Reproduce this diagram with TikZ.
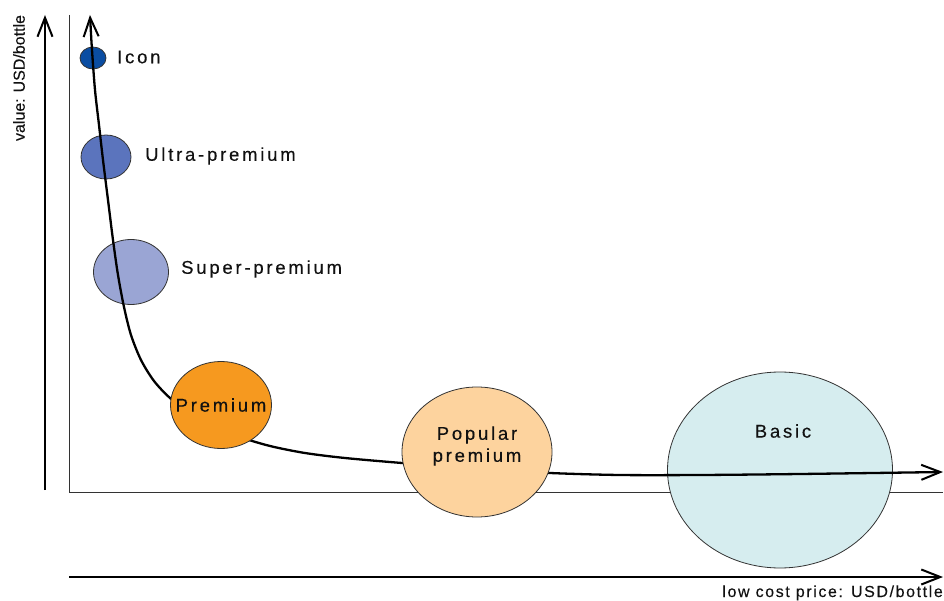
\documentclass[tikz,border=0pt]{standalone}
\usepackage{fontspec}
\setmainfont{Liberation Sans}
\newfontfamily\lblfont[LetterSpace=15,FakeBold=0.3]{Liberation Sans}
\newfontfamily\axfont[LetterSpace=10,FakeBold=0.2]{Liberation Sans}
\newfontfamily\yfont[FakeBold=0.1]{Liberation Sans}
\usetikzlibrary{shapes.geometric,arrows.meta}
\definecolor{iconc}{HTML}{0A4DA2}
\definecolor{ultrac}{HTML}{5B74BD}
\definecolor{superc}{HTML}{9AA5D4}
\definecolor{premc}{HTML}{F6991F}
\definecolor{popc}{HTML}{FDD39E}
\definecolor{basicc}{HTML}{D6EDEF}
\definecolor{txt}{HTML}{111111}
\definecolor{edge}{HTML}{333333}
\tikzset{
  seg/.style={ellipse, draw=edge, line width=0.8pt, inner sep=0pt},
  lbl/.style={font=\lblfont\fontsize{18.5}{22}\selectfont, text=txt, inner sep=0pt},
  bigarrow/.style={line width=2.4pt, -{Straight Barb[length=19pt,width=15pt,line width=2pt]}},
  frame/.style={line width=1pt, draw=black!80},
}
\begin{document}
\begin{tikzpicture}[x=1pt,y=-1pt]
\useasboundingbox (0,0) rectangle (944,601);
% frame
\coordinate (ftop) at (69,15);
\coordinate (fcorner) at (69,492);
\coordinate (fright) at (943,492);
\draw[frame] (ftop) -- (fcorner) -- (fright);
% axes arrows
\coordinate (yb) at (45,490);
\coordinate (yt) at (45,15);
\draw[bigarrow] (yb) -- (yt);
\coordinate (xb) at (69,577);
\coordinate (xt) at (943,577);
\draw[bigarrow] (xb) -- (xt);
\node[rotate=90, font=\yfont\fontsize{16}{18}\selectfont, text=txt, inner sep=0pt] (ylab) at (19,78) {value: USD/bottle};
\node[anchor=base east, font=\axfont\fontsize{16}{18}\selectfont, text=txt, inner sep=0pt] (xlab) at (943,597) {low cost price: USD/bottle};
% segments under curve
\node[seg, fill=iconc, minimum width=26pt, minimum height=22pt] (icon) at (93,58) {};
\node[seg, fill=ultrac, minimum width=50pt, minimum height=44pt] (ultra) at (106,157) {};
\node[seg, fill=superc, minimum width=75pt, minimum height=65pt] (super) at (131,272) {};
\node[seg, fill=basicc, minimum width=225pt, minimum height=196pt] (basic) at (780,470) {};
% curve
\draw[line width=2.3pt, {Straight Barb[length=19pt,width=15pt,line width=2pt]}-{Straight Barb[length=19pt,width=15pt,line width=2pt]}]
  plot[smooth, tension=0.5] coordinates {(90,15) (92,50) (95,90) (99,125) (103,160) (108,200) (113,240) (118,275) (124,307) (131,335) (141,360) (154,381) (170,398) (190,413) (213,426) (240,437) (270,446) (305,453) (345,458) (402,463) (480,469) (550,473) (620,475) (700,475) (800,474) (943,472)};
% segments over curve
\node[seg, fill=premc, minimum width=101pt, minimum height=87pt] (prem) at (221,405) {};
\node[seg, fill=popc, minimum width=150pt, minimum height=130pt] (pop) at (477,452) {};
% labels
\node[lbl, anchor=west] (iconl) at (117,57) {Icon};
\node[lbl, anchor=west] (ultral) at (145,156) {Ultra-premium};
\node[lbl, anchor=west] (superl) at (181,269) {Super-premium};
\node[lbl] (preml) at (prem.center) {Premium};
\node[lbl, align=center] (popl) at (477,446) {Popular\\premium};
\node[lbl] (basicl) at (783,431) {Basic};
\end{tikzpicture}
\end{document}
